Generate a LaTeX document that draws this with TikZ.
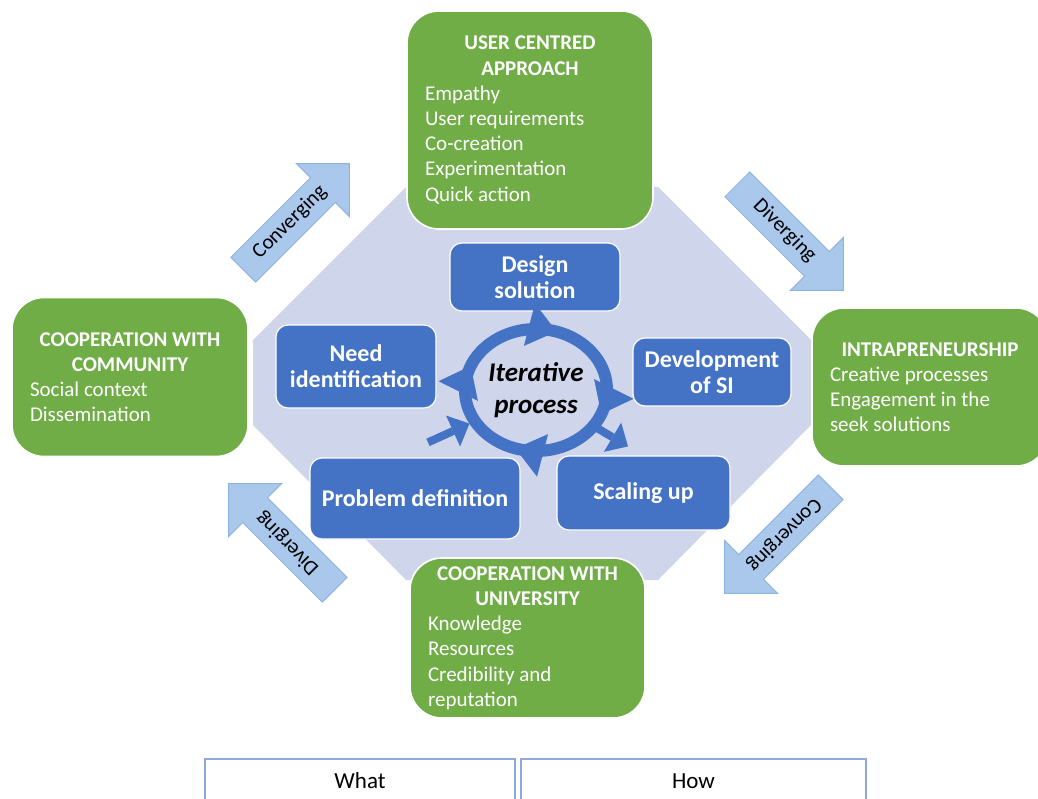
\documentclass[tikz,border=0pt]{standalone}
\usepackage{fontspec}
\setmainfont{Carlito}
\usepackage{tikz}
\usetikzlibrary{positioning,shapes,arrows.meta,decorations.markings}
\definecolor{boxgreen}{HTML}{70AD47}
\definecolor{boxblue}{HTML}{4472C4}
\definecolor{lavender}{HTML}{CFD5EA}
\definecolor{arrowfill}{HTML}{A9C8EB}
\definecolor{arrowedge}{HTML}{8FB3E0}
\definecolor{tabline}{HTML}{8EA9DB}
\newcommand{\pillarhead}[1]{\makebox[\linewidth]{\bfseries #1}}
\tikzstyle{pillar}=[%
      rectangle, rounded corners=16pt, draw=white, line width=0.8pt, fill=boxgreen,
      text=white, align=flush left, inner sep=0pt, font=\fontsize{10.5}{12.6}\selectfont
]
\tikzstyle{stage}=[%
      rectangle, rounded corners=6pt, draw=white, line width=0.6pt, fill=boxblue,
      text=white, align=flush center, inner sep=2pt, font=\bfseries\fontsize{12}{13}\selectfont
]
\tikzstyle{ring}=[%
      ellipse, draw=boxblue, line width=6pt, minimum width=71pt, minimum height=61pt,
      inner sep=0pt, outer sep=0pt, text=black, align=flush center,
      font=\bfseries\itshape\fontsize{13.5}{16}\selectfont,
      decoration={markings,
        mark=at position 0.20 with {\arrowreversed{Triangle[width=22pt,length=14pt,line width=0pt]}},
        mark=at position 0.44 with {\arrowreversed{Triangle[width=22pt,length=14pt,line width=0pt]}},
        mark=at position 0.70 with {\arrowreversed{Triangle[width=22pt,length=14pt,line width=0pt]}},
        mark=at position 0.94 with {\arrowreversed{Triangle[width=22pt,length=14pt,line width=0pt]}}},
      postaction={decorate}
]
\tikzstyle{flow}=[%
      single arrow, single arrow head extend=10pt, single arrow tip angle=90,
      minimum height=75pt, inner xsep=3pt, inner ysep=3.9pt, text height=7pt, text depth=2.2pt,
      draw=arrowedge, line width=0.5pt, fill=arrowfill, anchor=tail,
      font=\fontsize{10.5}{12}\selectfont
]
\tikzstyle{push}=[draw=boxblue, line width=4pt, -{Triangle[width=17pt,length=9pt,line width=0pt]}]
\tikzstyle{tab}=[%
      rectangle, draw=tabline, line width=0.8pt, minimum height=22pt, anchor=north,
      font=\fontsize{11.5}{13}\selectfont
]

\begin{document}
\begin{tikzpicture}[x=0.5pt, y=-0.5pt]
    \useasboundingbox (0,0) rectangle (1038,798);
    \clip (0,0) rectangle (1038,798);
    \fill[white] (0,0) rectangle (1038,798);

    % backdrop behind the process
    \fill[lavender] (406,187) -- (658,187) -- (811,340) -- (811,425) -- (658,580)
          -- (406,580) -- (253,425) -- (253,340) -- cycle;

    % green corner boxes
    \node[pillar, minimum width=123pt, minimum height=109pt, text width=105pt] (usercentred) at (530,120)
      {\pillarhead{USER CENTRED}\\ \pillarhead{APPROACH}\\ Empathy\\ User requirements\\ Co-creation\\ Experimentation\\ Quick action};
    \node[pillar, minimum width=118pt, minimum height=79.5pt, text width=100pt] (community) at (130,377)
      {\pillarhead{COOPERATION WITH}\\ \pillarhead{COMMUNITY}\\ Social context\\ Dissemination};
    \node[pillar, minimum width=118pt, minimum height=79pt, text width=100pt] (intra) at (930,387)
      {\pillarhead{INTRAPRENEURSHIP}\\ Creative processes\\ Engagement in the\\ seek solutions};
    \node[pillar, minimum width=117.5pt, minimum height=80pt, text width=99.5pt] (university) at (527.5,638)
      {\pillarhead{COOPERATION WITH}\\ \pillarhead{UNIVERSITY}\\ Knowledge\\ Resources\\ Credibility and\\ reputation};

    % stages round the loop
    \node[stage, minimum width=85pt, minimum height=34pt]    (design)  at (535,277)   {Design\\solution};
    \node[stage, minimum width=80pt, minimum height=41.5pt]  (need)    at (356,366.5) {Need\\identification};
    \node[stage, minimum width=79pt, minimum height=34pt]    (develop) at (712,372)   {Development\\of SI};
    \node[stage, minimum width=105pt, minimum height=40.5pt] (problem) at (415,498.5) {Problem definition};
    \node[stage, minimum width=86.5pt, minimum height=37pt]  (scaling) at (643.5,493) {Scaling up};

    \node[ring] (iter) at (536,390) {Iterative\\process};

    \draw[push, shorten >=3pt] ([xshift=6.5pt,yshift=7.5pt]problem.north) -- (iter.207);
    \draw[push] (iter.328) -- ([xshift=-7.75pt,yshift=4.5pt]scaling.north);

    % big arrows between the corners
    \node[flow, rotate=45]  (conv1) at (243,270) {Converging};
    \node[flow, rotate=-45] (div1)  at (737,184) {Diverging};
    \node[flow, rotate=225] (conv2) at (831,487) {Converging};
    \node[flow, rotate=135] (div2)  at (335,590) {Diverging};

    \node[tab, minimum width=155pt]   (what) at (360,758)   {What};
    \node[tab, minimum width=172.5pt] (how)  at (693.5,758) {How};
\end{tikzpicture}
\end{document}
